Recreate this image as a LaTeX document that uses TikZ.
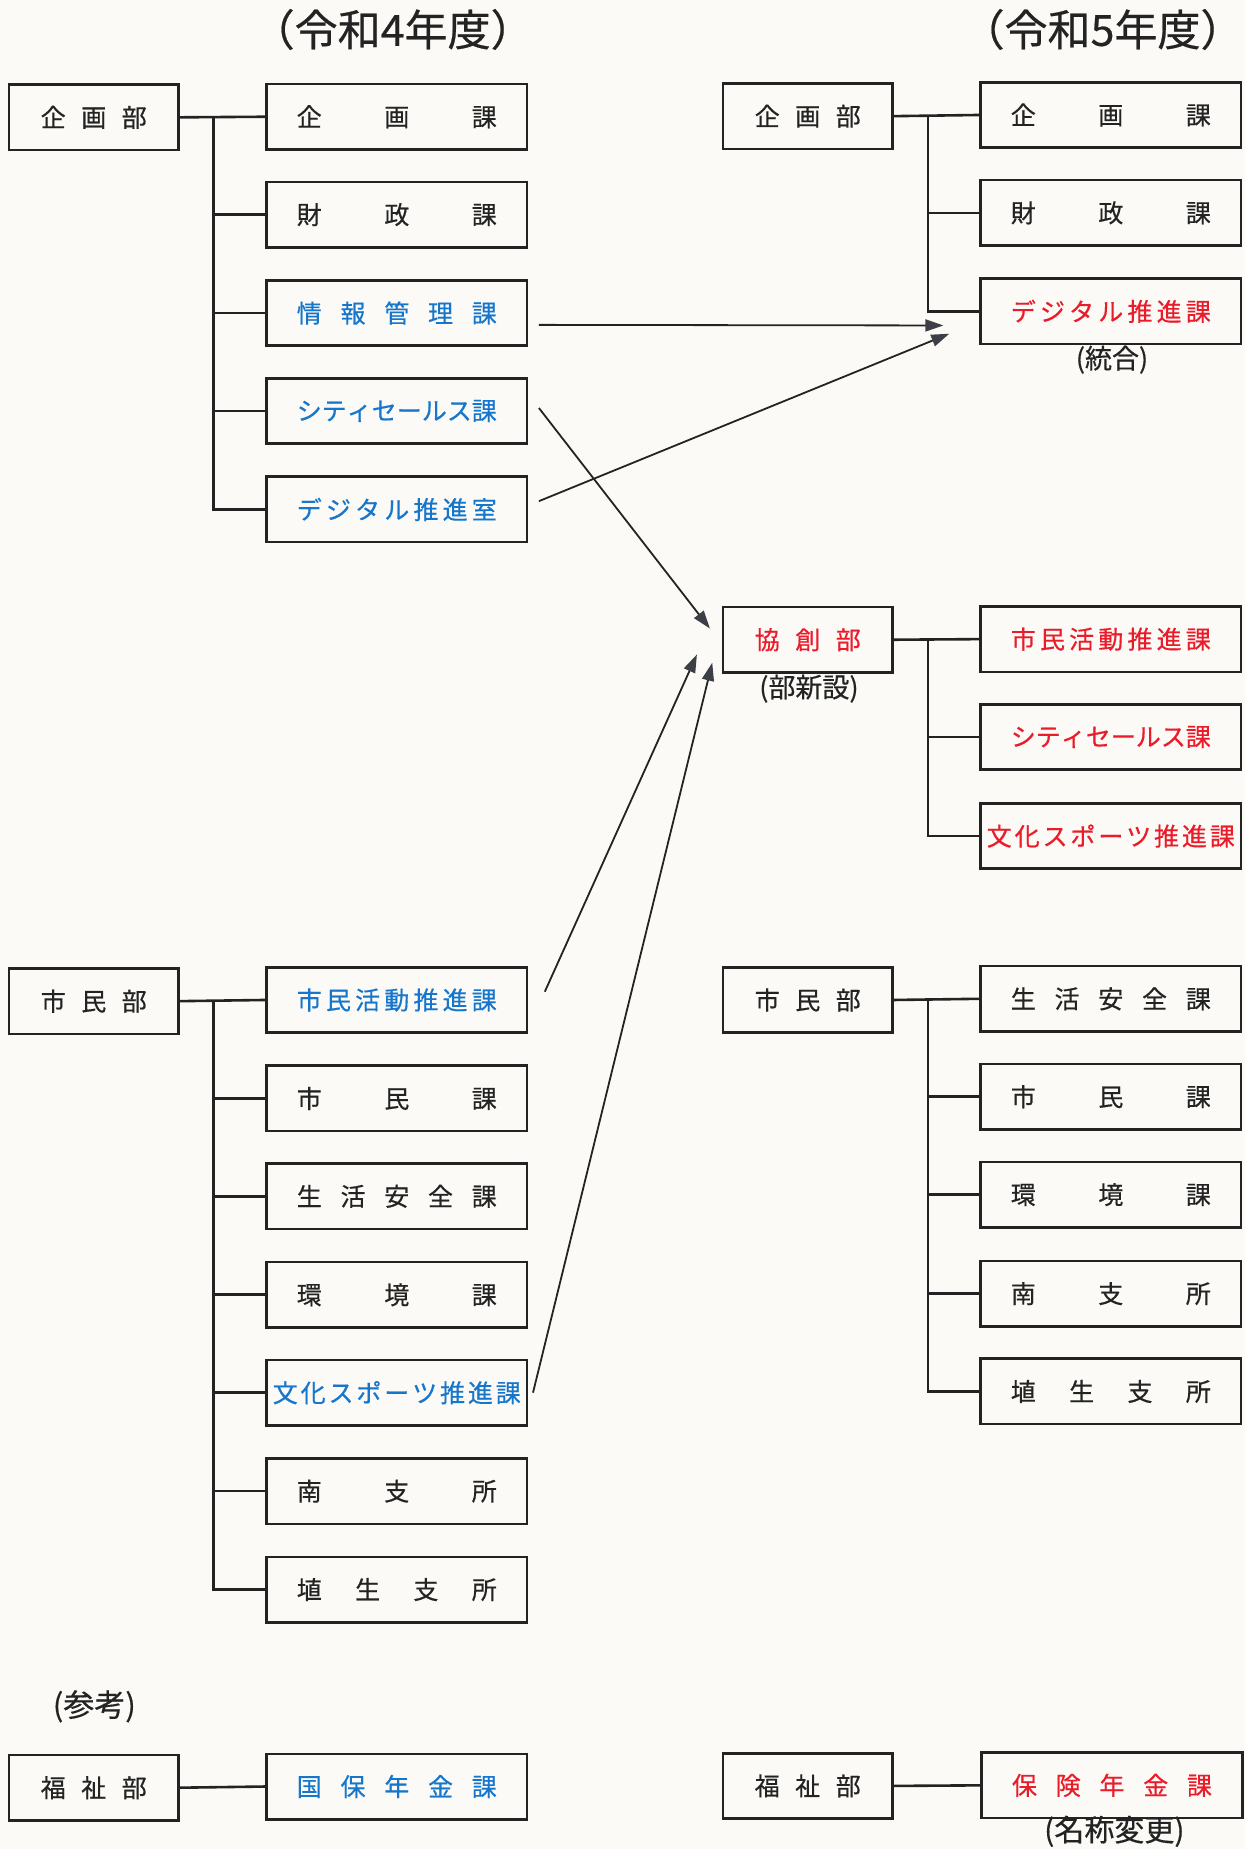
\documentclass[tikz,border=0pt]{standalone}
\usepackage{fontspec}
\setmainfont{Noto Sans CJK JP}[FakeBold=0.5]
\usetikzlibrary{arrows.meta}
\definecolor{paper}{RGB}{251,250,246}
\definecolor{kblue}{RGB}{22,118,204}
\definecolor{kred}{RGB}{234,28,42}
\definecolor{tipgray}{RGB}{60,64,70}
\definecolor{ink}{RGB}{35,35,35}
\newcommand\sprd[2]{\makebox[#1][s]{#2}}
\begin{document}
\begin{tikzpicture}[x=0.5895pt,y=-0.5895pt,
  box/.style={draw=ink, line width=1.3pt, inner sep=0pt, minimum height=32.7pt, text=ink, font=\fontsize{12.5}{14}\selectfont},
  dept/.style={box, minimum width=84.9pt},
  sect/.style={box, minimum width=130.3pt},
  conn/.style={draw=ink, line width=1.3pt},
  arr/.style={draw=ink, line width=0.9pt, -{Triangle[length=9pt,width=6pt,fill=tipgray,color=tipgray]}},
  note/.style={text=ink, font=\fontsize{13.5}{16}\selectfont},
  title/.style={text=ink, inner sep=0pt, font=\fontsize{21.5}{26}\selectfont}]
\fill[paper] (0,0) rectangle (1056,1568);
\useasboundingbox (0,0) rectangle (1056,1568);

% titles
\node[title] (t4) at (333,25) {\kern-0.5em（令和4年度）\kern-0.5em};
\node[title] (t5) at (935,25) {\kern-0.5em（令和5年度）\kern-0.5em};

% ---- R4 企画部
\node[dept] (pL) at (79.5,99.5) {\sprd{53pt}{企\hfil 画\hfil 部}};
\node[sect] (pL1) at (336.5,99) {\sprd{100pt}{企\hfil 画\hfil 課}};
\node[sect] (pL2) at (336.5,182) {\sprd{100pt}{財\hfil 政\hfil 課}};
\node[sect,text=kblue] (pL3) at (336.5,265.5) {\sprd{100pt}{情\hfil 報\hfil 管\hfil 理\hfil 課}};
\node[sect,text=kblue] (pL4) at (336.5,348.5) {\sprd{100pt}{シ\hfil テ\hfil ィ\hfil セ\hfil ー\hfil ル\hfil ス\hfil 課}};
\node[sect,text=kblue] (pL5) at (336.5,432) {\sprd{100pt}{デ\hfil ジ\hfil タ\hfil ル\hfil 推\hfil 進\hfil 室}};
\coordinate (jpL) at (181,99.5);
\draw[conn] (pL.east) -- (pL1.west);
\draw[conn] (jpL) |- (pL5.west);
\foreach \n in {pL2,pL3,pL4} \draw[conn] (jpL |- \n.west) -- (\n.west);

% ---- R5 企画部
\node[dept] (pR) at (685,98.5) {\sprd{53pt}{企\hfil 画\hfil 部}};
\node[sect] (pR1) at (942,97.5) {\sprd{100pt}{企\hfil 画\hfil 課}};
\node[sect] (pR2) at (942,180.5) {\sprd{100pt}{財\hfil 政\hfil 課}};
\node[sect,text=kred] (pR3) at (942,264) {\sprd{100pt}{デ\hfil ジ\hfil タ\hfil ル\hfil 推\hfil 進\hfil 課}};
\node[note] (n1) at (943,305) {(統合)};
\coordinate (jpR) at (787,98.5);
\draw[conn] (pR.east) -- (pR1.west);
\draw[conn] (jpR) |- (pR3.west);
\draw[conn] (jpR |- pR2.west) -- (pR2.west);

% ---- R5 協創部
\node[dept,text=kred] (kR) at (685,542.5) {\sprd{53pt}{協\hfil 創\hfil 部}};
\node[note] (n2) at (686,584) {(部新設)};
\node[sect,text=kred] (kR1) at (942,542) {\sprd{100pt}{市\hfil 民\hfil 活\hfil 動\hfil 推\hfil 進\hfil 課}};
\node[sect,text=kred] (kR2) at (942,625) {\sprd{100pt}{シ\hfil テ\hfil ィ\hfil セ\hfil ー\hfil ル\hfil ス\hfil 課}};
\node[sect,text=kred] (kR3) at (942,709) {\sprd{124pt}{文\hfil 化\hfil ス\hfil ポ\hfil ー\hfil ツ\hfil 推\hfil 進\hfil 課}};
\coordinate (jkR) at (787,542.5);
\draw[conn] (kR.east) -- (kR1.west);
\draw[conn] (jkR) |- (kR3.west);
\draw[conn] (jkR |- kR2.west) -- (kR2.west);

% ---- R4 市民部
\node[dept] (sL) at (79.5,849) {\sprd{53pt}{市\hfil 民\hfil 部}};
\node[sect,text=kblue] (sL1) at (336.5,848) {\sprd{100pt}{市\hfil 民\hfil 活\hfil 動\hfil 推\hfil 進\hfil 課}};
\node[sect] (sL2) at (336.5,931.5) {\sprd{100pt}{市\hfil 民\hfil 課}};
\node[sect] (sL3) at (336.5,1014.5) {\sprd{100pt}{生\hfil 活\hfil 安\hfil 全\hfil 課}};
\node[sect] (sL4) at (336.5,1098) {\sprd{100pt}{環\hfil 境\hfil 課}};
\node[sect,text=kblue] (sL5) at (336.5,1181) {\sprd{124pt}{文\hfil 化\hfil ス\hfil ポ\hfil ー\hfil ツ\hfil 推\hfil 進\hfil 課}};
\node[sect] (sL6) at (336.5,1264.5) {\sprd{100pt}{南\hfil 支\hfil 所}};
\node[sect] (sL7) at (336.5,1348) {\sprd{100pt}{埴\hfil 生\hfil 支\hfil 所}};
\coordinate (jsL) at (181,849);
\draw[conn] (sL.east) -- (sL1.west);
\draw[conn] (jsL) |- (sL7.west);
\foreach \n in {sL2,sL3,sL4,sL5,sL6} \draw[conn] (jsL |- \n.west) -- (\n.west);

% ---- R5 市民部
\node[dept] (sR) at (685,848) {\sprd{53pt}{市\hfil 民\hfil 部}};
\node[sect] (sR1) at (942,847) {\sprd{100pt}{生\hfil 活\hfil 安\hfil 全\hfil 課}};
\node[sect] (sR2) at (942,930) {\sprd{100pt}{市\hfil 民\hfil 課}};
\node[sect] (sR3) at (942,1013) {\sprd{100pt}{環\hfil 境\hfil 課}};
\node[sect] (sR4) at (942,1097) {\sprd{100pt}{南\hfil 支\hfil 所}};
\node[sect] (sR5) at (942,1180) {\sprd{100pt}{埴\hfil 生\hfil 支\hfil 所}};
\coordinate (jsR) at (787,848);
\draw[conn] (sR.east) -- (sR1.west);
\draw[conn] (jsR) |- (sR5.west);
\foreach \n in {sR2,sR3,sR4} \draw[conn] (jsR |- \n.west) -- (\n.west);

% ---- 参考
\node[note,font=\fontsize{15.5}{18}\selectfont] (ref) at (80,1447) {(参考)};
\node[dept] (fL) at (79.5,1516) {\sprd{53pt}{福\hfil 祉\hfil 部}};
\node[sect,text=kblue] (fL1) at (336.5,1515) {\sprd{100pt}{国\hfil 保\hfil 年\hfil 金\hfil 課}};
\draw[conn] (fL.east) -- (fL1.west);
\node[dept] (fR) at (685,1514.5) {\sprd{53pt}{福\hfil 祉\hfil 部}};
\node[sect,text=kred] (fR1) at (943,1514) {\sprd{100pt}{保\hfil 険\hfil 年\hfil 金\hfil 課}};
\node[note,font=\fontsize{15}{18}\selectfont] (n3) at (945,1553) {(名称変更)};
\draw[conn] (fR.east) -- (fR1.west);

% ---- arrows
\coordinate (a1s) at (457,275.5);
\coordinate (a1e) at (800,276);
\coordinate (a2s) at (457,425);
\coordinate (a2e) at (805,283);
\coordinate (a3s) at (457,346);
\coordinate (a3e) at (602,533);
\coordinate (a4s) at (462,841);
\coordinate (a4e) at (591,555);
\coordinate (a5s) at (452,1181);
\coordinate (a5e) at (604,562);
\draw[arr] (a1s) -- (a1e);
\draw[arr] (a2s) -- (a2e);
\draw[arr] (a3s) -- (a3e);
\draw[arr] (a4s) -- (a4e);
\draw[arr] (a5s) -- (a5e);
\end{tikzpicture}
\end{document}
